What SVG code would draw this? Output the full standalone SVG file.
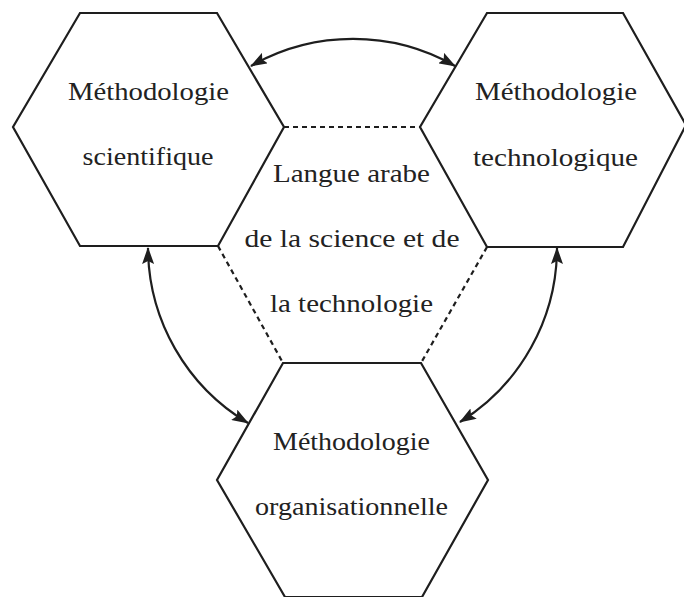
<svg xmlns="http://www.w3.org/2000/svg" width="684" height="597" viewBox="0 0 684 597">
<defs>
<style>
.hex{fill:none;stroke:#1e1e1e;stroke-width:2.2;stroke-linejoin:miter}
.dash{fill:none;stroke:#1e1e1e;stroke-width:2.2;stroke-dasharray:5 4}
.arc{fill:none;stroke:#1e1e1e;stroke-width:2.2;marker-start:url(#ah);marker-end:url(#ah)}
text{font-family:"Liberation Serif","Times New Roman",serif;font-size:26px;fill:#222;text-anchor:middle}
</style>
<marker id="ah" viewBox="0 0 17 12" refX="16" refY="6" markerWidth="17" markerHeight="12" markerUnits="userSpaceOnUse" orient="auto-start-reverse">
<path d="M0,0 L17,6 L0,12 L3,6 z" fill="#1e1e1e"/>
</marker>
</defs>
<rect width="684" height="597" fill="#ffffff"/>
<g id="centre">
<polyline class="dash" points="284,127 420,127"/>
<polyline class="dash" points="218,246 283,363"/>
<polyline class="dash" points="487,247 421,363"/>
<text x="351.5" y="182" textLength="157" lengthAdjust="spacingAndGlyphs">Langue arabe</text>
<text x="352" y="247" textLength="215" lengthAdjust="spacingAndGlyphs">de la science et de</text>
<text x="351.5" y="312" textLength="163" lengthAdjust="spacingAndGlyphs">la technologie</text>
</g>
<g id="scientifique">
<polygon class="hex" points="80,13 217,13 284,127 218,246 80,246 13,127"/>
<text x="148.5" y="100" textLength="161" lengthAdjust="spacingAndGlyphs">Méthodologie</text>
<text x="148" y="165" textLength="131" lengthAdjust="spacingAndGlyphs">scientifique</text>
</g>
<g id="technologique">
<polygon class="hex" points="487,13 623,13 686,125 623,247 487,247 420,127"/>
<text x="556" y="100" textLength="162" lengthAdjust="spacingAndGlyphs">Méthodologie</text>
<text x="555.5" y="166" textLength="165" lengthAdjust="spacingAndGlyphs">technologique</text>
</g>
<g id="organisationnelle">
<polygon class="hex" points="283,363 421,363 488,480 422,597 285,597 217,480"/>
<text x="351.5" y="450" textLength="157" lengthAdjust="spacingAndGlyphs">Méthodologie</text>
<text x="351.5" y="515" textLength="193" lengthAdjust="spacingAndGlyphs">organisationnelle</text>
</g>
<g id="connectors">
<path class="arc" d="M251,66 A206,206 0 0 1 455,66"/>
<path class="arc" d="M148,248 A205,205 0 0 0 248,423"/>
<path class="arc" d="M557,248 A205,205 0 0 1 460,422"/>
</g>
</svg>
